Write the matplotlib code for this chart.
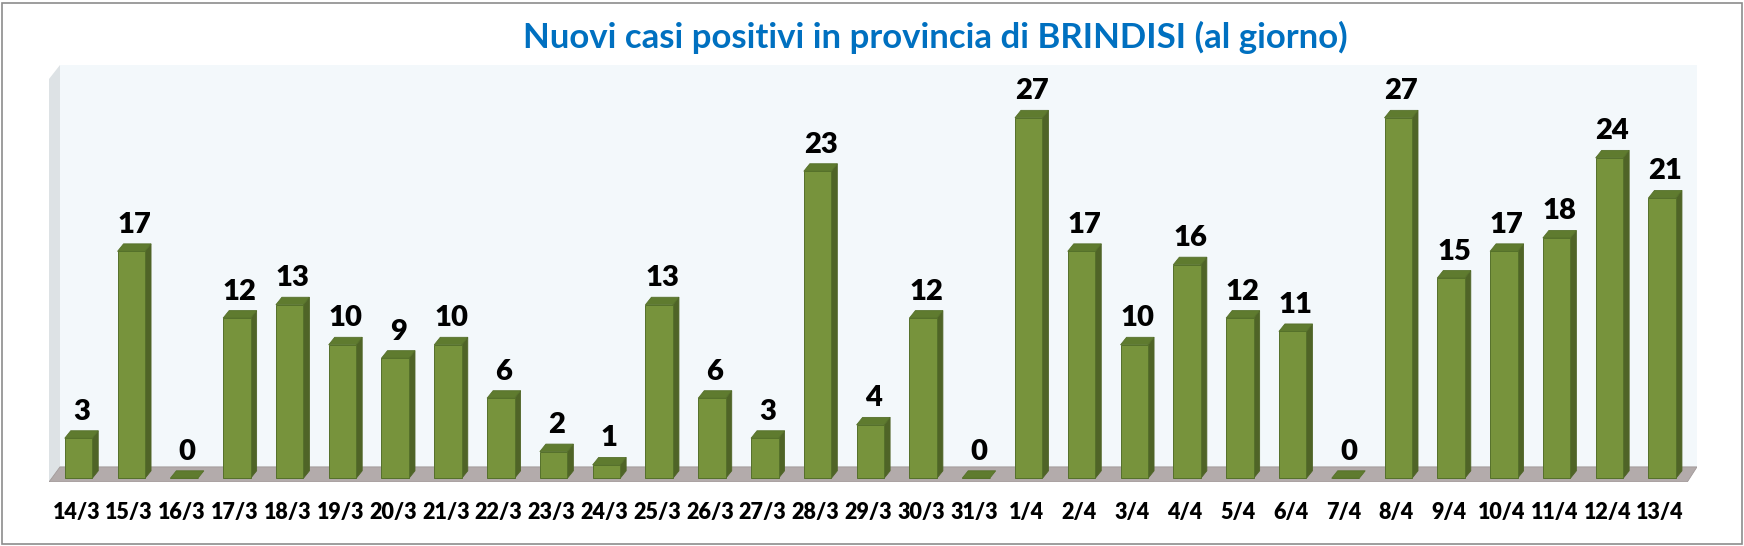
import matplotlib
matplotlib.use("Agg")
import matplotlib.pyplot as plt
from matplotlib.patches import Polygon, Rectangle
import numpy as np

plt.rcParams['font.family'] = ['Lato', 'DejaVu Sans']

dates = ["14/3", "15/3", "16/3", "17/3", "18/3", "19/3", "20/3", "21/3", "22/3", "23/3",
         "24/3", "25/3", "26/3", "27/3", "28/3", "29/3", "30/3", "31/3", "1/4", "2/4",
         "3/4", "4/4", "5/4", "6/4", "7/4", "8/4", "9/4", "10/4", "11/4", "12/4", "13/4"]
cases = [3, 17, 0, 12, 13, 10, 9, 10, 6, 2,
         1, 13, 6, 3, 23, 4, 12, 0, 27, 17,
         10, 16, 12, 11, 0, 27, 15, 17, 18, 24, 21]
title = "Nuovi casi positivi in provincia di BRINDISI (al giorno)"

W, H = 1744, 546
fig = plt.figure(figsize=(W / 100, H / 100), dpi=100)

# axes placement in pixels
px_left, px_right = 49, 1697
px_top, px_bottom = 65, 482.3
ax = fig.add_axes([px_left / W, 1 - px_bottom / H, (px_right - px_left) / W, (px_bottom - px_top) / H])

x0_px, step_px = 78.5, 52.79
y0_px, unit_px = 478.3, 13.35
xlim = ((px_left - x0_px) / step_px, (px_right - x0_px) / step_px)
ylim = ((y0_px - px_bottom) / unit_px, (y0_px - px_top) / unit_px)
ax.set_xlim(*xlim)
ax.set_ylim(*ylim)
ax.axis('off')

def px2x(p):
    return (p - x0_px) / step_px

def px2y(p):
    return (y0_px - p) / unit_px

# back wall
ax.add_patch(Polygon([(px2x(60), px2y(466.9)), (px2x(1697), px2y(466.9)),
                      (px2x(1697), px2y(65)), (px2x(60), px2y(65))],
                     closed=True, facecolor='#f3f8fb', edgecolor='none', zorder=1))
# left side wall
ax.add_patch(Polygon([(px2x(60), px2y(65)), (px2x(60), px2y(466.9)),
                      (px2x(49), px2y(482)), (px2x(49), px2y(79))],
                     closed=True, facecolor='#dde2e5', edgecolor='none', zorder=1))
# floor
ax.add_patch(Polygon([(px2x(60), px2y(466.9)), (px2x(1697), px2y(466.9)),
                      (px2x(1687.3), px2y(482)), (px2x(49), px2y(482))],
                     closed=True, facecolor='#b3abab', edgecolor='#a09898', lw=0.6, zorder=2))

x = np.arange(len(cases))
w = 27.5 / step_px
dx = 6 / step_px
dy = 7.5 / unit_px

front = '#77933c'
top = '#5f7b2f'
side = '#4f6427'
edge = '#55702a'

ax.bar(x, cases, width=w, color=front, edgecolor=edge, linewidth=0.7, zorder=4)
for xi, v, lab in zip(x, cases, dates):
    l, r = xi - w / 2, xi + w / 2
    ax.add_patch(Polygon([(l, v), (r, v), (r + dx, v + dy), (l + dx, v + dy)],
                         closed=True, facecolor=top, edgecolor=edge, lw=0.6, zorder=5))
    if v > 0:
        ax.add_patch(Polygon([(r, 0), (r + dx, dy), (r + dx, v + dy), (r, v)],
                             closed=True, facecolor=side, edgecolor=side, lw=0.6, zorder=3))
    ax.text(xi + dx / 2, v + dy + 0.45, str(v), ha='center', va='bottom',
            fontsize=21, fontweight='heavy', color='black', zorder=6)
    ax.text(xi - 0.04, px2y(513), lab, ha='center', va='center',
            fontsize=15.5, fontweight='heavy', color='black', clip_on=False)

fig.text(935 / W, 1 - 37 / H, title, ha='center', va='center',
         fontsize=25, fontweight='bold', color='#0070c0')

# figure border
fig.add_artist(Rectangle((1.5 / W, 2.5 / H), (W - 4) / W, (H - 5) / H, transform=fig.transFigure,
                         fill=False, edgecolor='#8c8c8c', lw=1.2))

fig.savefig("out.png", dpi=100, facecolor='white')
